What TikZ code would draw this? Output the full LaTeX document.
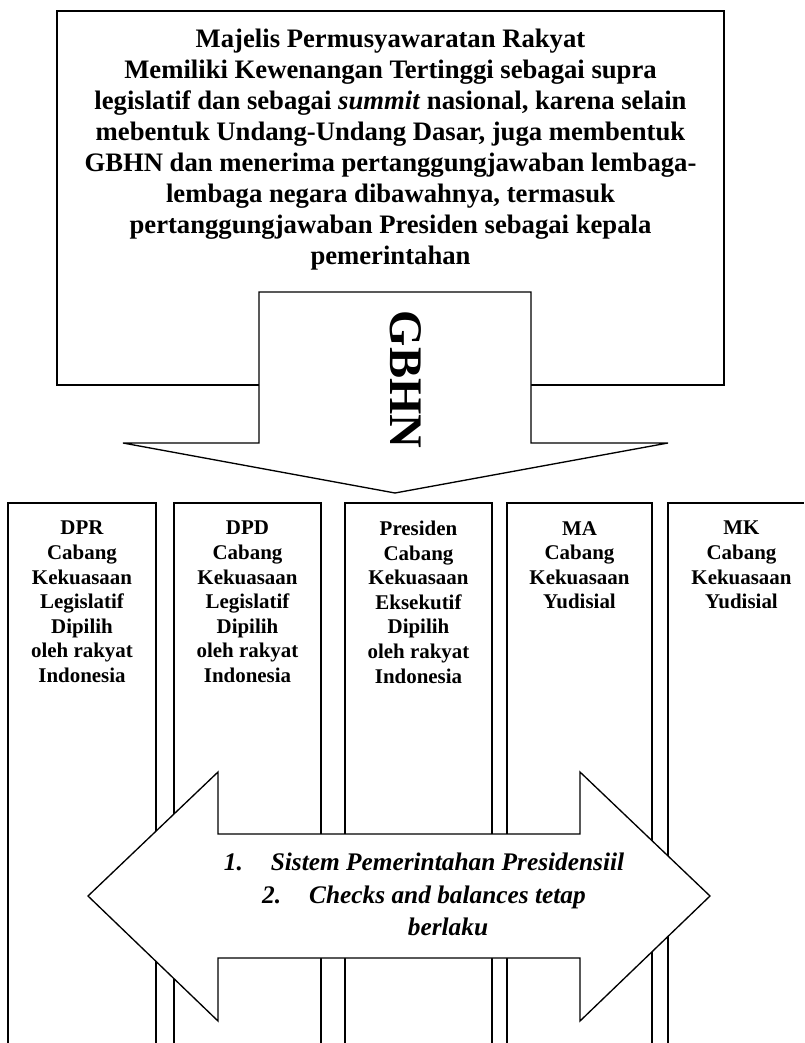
\documentclass[tikz,border=0pt]{standalone}
\usepackage{fontspec}
\setmainfont{Liberation Serif}
\usepackage{tikz}
\usetikzlibrary{positioning}

\begin{document}
\begin{tikzpicture}[
			x=0.75pt, y=-0.75pt,
			outline/.style={draw, line width=1pt, line join=miter},
			blockarrow/.style={draw, fill=white, line width=1pt, line join=miter},
			mprtext/.style={align=center, anchor=north, inner sep=0pt, font=\bfseries\fontsize{20}{23.25}\selectfont},
			coltext/.style={align=center, anchor=north, inner sep=0pt, font=\bfseries\fontsize{15.7}{18.4}\selectfont},
			listtext/.style={align=center, anchor=north, inner sep=0pt, font=\bfseries\itshape\fontsize{19}{24.4}\selectfont}
			]
			
			\useasboundingbox (0,0) rectangle (804,1043);
			
			% MPR box
			\draw[outline] (57,11) rectangle (724,385);
			\node[mprtext] (mpr) at (390.5,29) {Majelis Permusyawaratan Rakyat\\Memiliki Kewenangan Tertinggi sebagai supra\\legislatif dan sebagai \textit{summit} nasional, karena selain\\mebentuk Undang-Undang Dasar, juga membentuk\\GBHN dan menerima pertanggungjawaban lembaga-\\lembaga negara dibawahnya, termasuk\\pertanggungjawaban Presiden sebagai kepala\\pemerintahan};
			
			% GBHN arrow
			\draw[blockarrow] (259,292) -- (531,292) -- (531,443) -- (668,443) -- (395,493) -- (123,443) -- (259,443) -- cycle;
			\node[rotate=-90, inner sep=0pt, font=\bfseries\fontsize{35}{40}\selectfont] (gbhn) at (406,379.5) {GBHN};
			
			% Columns
			\draw[outline] (8,1043) -- (8,503) -- (156,503) -- (156,1043);
			\draw[outline] (174,1043) -- (174,503) -- (321,503) -- (321,1043);
			\draw[outline] (345,1043) -- (345,503) -- (492,503) -- (492,1043);
			\draw[outline] (507,1043) -- (507,503) -- (652,503) -- (652,1043);
			\draw[outline] (668,1043) -- (668,503) -- (804,503);
			
			\node[coltext] (dpr) at (82,521) {DPR\\Cabang\\Kekuasaan\\Legislatif\\Dipilih\\oleh rakyat\\Indonesia};
			\node[coltext] (dpd) at (247.5,521) {DPD\\Cabang\\Kekuasaan\\Legislatif\\Dipilih\\oleh rakyat\\Indonesia};
			\node[coltext] (presiden) at (418.5,521) {Presiden\\Cabang\\Kekuasaan\\Eksekutif\\Dipilih\\oleh rakyat\\Indonesia};
			\node[coltext] (ma) at (579.5,521) {MA\\Cabang\\Kekuasaan\\Yudisial};
			\node[coltext] (mk) at (741.5,521) {MK\\Cabang\\Kekuasaan\\Yudisial};
			
			% Double arrow
			\draw[blockarrow] (88,896) -- (218,772) -- (218,834) -- (580,834) -- (580,772) -- (710,896) -- (580,1021) -- (580,958) -- (218,958) -- (218,1021) -- cycle;
			\node[listtext] (sistem) at (424,853) {1.\hspace*{21pt}Sistem Pemerintahan Presidensiil\\2.\hspace*{21pt}Checks and balances tetap\\\hspace*{36pt}berlaku};
			
		\end{tikzpicture}
\end{document}
